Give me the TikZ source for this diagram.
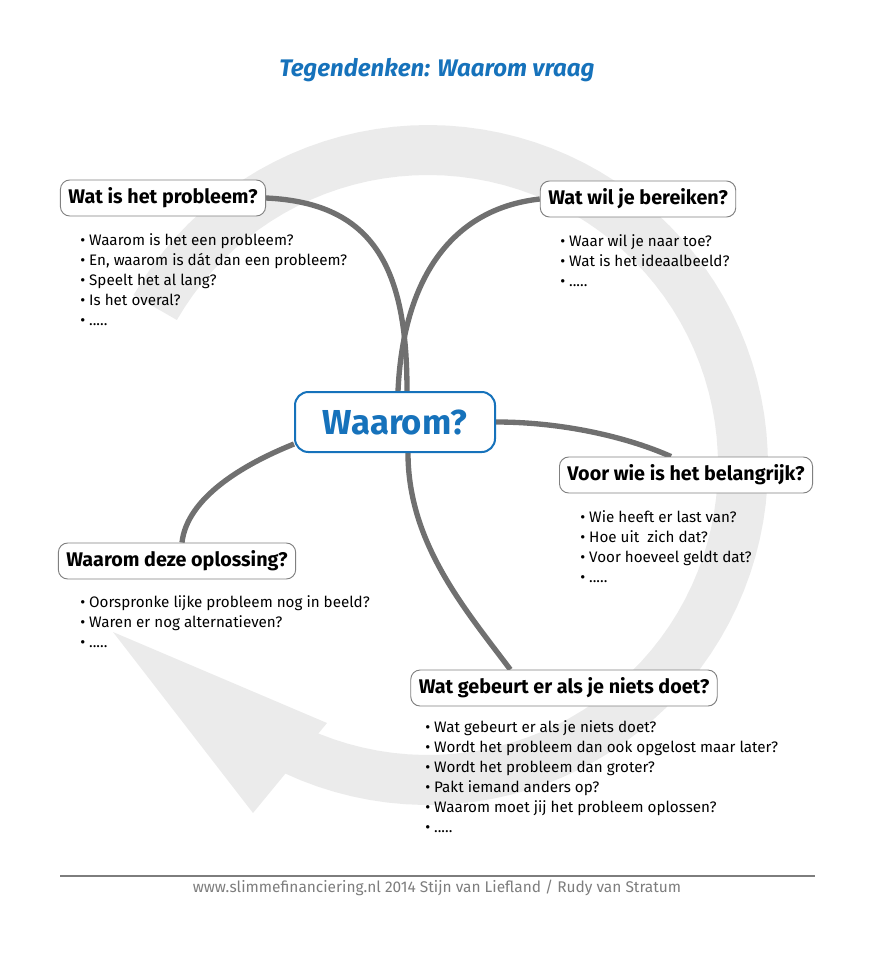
\documentclass[tikz,border=0pt]{standalone}
\usepackage{fontspec}
\setmainfont{Fira Sans}
\definecolor{wblue}{RGB}{22,114,187}
\definecolor{ringgray}{RGB}{235,235,235}
\definecolor{linegray}{RGB}{112,112,112}
\definecolor{boxgray}{RGB}{128,128,128}
\definecolor{footgray}{RGB}{125,125,125}
\usetikzlibrary{positioning,calc,backgrounds}
\newcommand{\itm}{\textbullet\hspace{3pt}}

\begin{document}
\begin{tikzpicture}[x=0.75pt, y=-0.75pt,
    centerbox/.style={rectangle, rounded corners=10pt, draw=wblue, line width=1.5pt,
                      fill=white, minimum width=150pt, minimum height=45pt,
                      font=\fontsize{26}{31}\selectfont\bfseries, text=wblue},
    qbox/.style={rectangle, rounded corners=7pt, draw=boxgray, line width=0.7pt,
                 fill=white, minimum height=27pt, inner xsep=6pt,
                 font=\fontsize{14.8}{18}\selectfont\bfseries},
    bullets/.style={anchor=north west, align=left, inner sep=0pt,
                    font=\fontsize{11.4}{15}\selectfont},
    link/.style={draw=linegray, line width=4pt}
  ]
    \useasboundingbox (0,0) rectangle (874,953);

    % Title
    \node[font=\fontsize{18}{22}\selectfont\bfseries\itshape, text=wblue] (title) at (437,70)
      {Tegendenken: Waarom vraag};

    % Central question
    \node[centerbox] (cen) at (395,422) {Waarom?};

    % Question boxes
    \node[qbox] (prob) at (163,198)   {Wat is het probleem?};
    \node[qbox] (ber)  at (638,199)   {Wat wil je bereiken?};
    \node[qbox] (bel)  at (686,475)   {Voor wie is het belangrijk?};
    \node[qbox] (opl)  at (177,561)   {Waarom deze oplossing?};
    \node[qbox] (geb)  at (564,688)   {Wat gebeurt er als je niets doet?};

    % Bullet lists
    \node[bullets] (probtxt) at (80,233) {\itm Waarom is het een probleem?\\
      \itm En, waarom is dát dan een probleem?\\ \itm Speelt het al lang?\\
      \itm Is het overal?\\ \itm .....};
    \node[bullets] (bertxt) at (560,234) {\itm Waar wil je naar toe?\\
      \itm Wat is het ideaalbeeld?\\ \itm .....};
    \node[bullets] (beltxt) at (580,510) {\itm Wie heeft er last van?\\
      \itm Hoe uit\ \ zich dat?\\ \itm Voor hoeveel geldt dat?\\ \itm .....};
    \node[bullets] (opltxt) at (80,595) {\itm Oorspronke lijke probleem nog in beeld?\\
      \itm Waren er nog alternatieven?\\ \itm .....};
    \node[bullets] (gebtxt) at (425,720) {\itm Wat gebeurt er als je niets doet?\\
      \itm Wordt het probleem dan ook opgelost maar later?\\
      \itm Wordt het probleem dan groter?\\ \itm Pakt iemand anders op?\\
      \itm Waarom moet jij het probleem oplossen?\\ \itm .....};

    \begin{pgfonlayer}{background}
      % Cycle arrow
      \fill[ringgray] plot[domain=210:478, samples=90] ({428+340*cos(\x)}, {465+340*sin(\x)})
        -- plot[domain=478:210, samples=90] ({428+290*cos(\x)}, {465+290*sin(\x)}) -- cycle;
      \fill[ringgray] (327,723) -- (113,632) -- (253,813) -- cycle;

      % Links from the centre
      \draw[link] ($(cen.north)+(12,0)$) .. controls ($(cen.north)+(12,-120)$) and ($(prob.east)+(110,5)$) .. (prob.east);
      \draw[link] ($(cen.north)+(3,0)$) .. controls ($(cen.north)+(8,-110)$) and ($(ber.west)+(-90,10)$) .. (ber.west);
      \draw[link] (cen.east) .. controls ($(cen.east)+(70,0)$) and ($(bel.north)+(-55,-18)$) .. ($(bel.north)+(-15,0)$);
      \draw[link] ($(cen.south)+(13,0)$) .. controls ($(cen.south)+(13,90)$) and ($(geb.north west)+(55,-60)$) .. ($(geb.north west)+(100,0)$);
      \draw[link] ($(cen.south west)+(0,-9)$) .. controls ($(cen.south west)+(-50,11)$) and ($(opl.north)+(10,-45)$) .. ($(opl.north)+(5,0)$);
    \end{pgfonlayer}

    % Footer
    \coordinate (fl) at (60,876);
    \coordinate (fr) at (815,876);
    \draw[footgray, line width=1.5pt] (fl) -- (fr);
    \node[font=\fontsize{11.6}{14}\selectfont, text=footgray] (foot) at (437,888)
      {www.slimmefinanciering.nl 2014 Stijn van Liefland / Rudy van Stratum};
  \end{tikzpicture}
\end{document}
